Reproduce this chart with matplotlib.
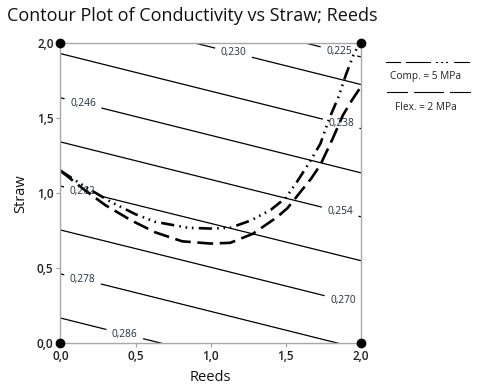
import matplotlib
matplotlib.use("Agg")
import matplotlib.pyplot as plt
import numpy as np
from matplotlib.lines import Line2D

plt.rcParams['font.family'] = ['Open Sans', 'DejaVu Sans']

# Grid of conductivity values
reeds_grid = [0.0, 0.5, 1.0, 1.5, 2.0]
straw_grid = [0.0, 0.5, 1.0, 1.5, 2.0]
conductivity = [
    [0.2906, 0.2872, 0.2838, 0.2804, 0.2770],   # straw = 0.0
    [0.2770, 0.2736, 0.2702, 0.2668, 0.2634],   # straw = 0.5
    [0.2633, 0.2599, 0.2565, 0.2531, 0.2497],   # straw = 1.0
    [0.2497, 0.2463, 0.2429, 0.2395, 0.2361],   # straw = 1.5
    [0.2361, 0.2327, 0.2293, 0.2259, 0.2225],   # straw = 2.0
]
levels = [0.225, 0.230, 0.238, 0.246, 0.254, 0.262, 0.270, 0.278, 0.286]
label_pos = [(1.85, 1.93), (1.15, 1.93), (1.86, 1.43), (0.15, 1.60), (1.86, 0.87),
             (0.15, 1.03), (1.88, 0.29), (0.15, 0.44), (0.43, 0.07)]

# Overlaid constraint curves
comp_x = [0.0, 0.17, 0.34, 0.50, 0.63, 0.85, 1.00, 1.13, 1.27, 1.40, 1.50, 1.57, 1.66, 1.73, 1.79, 1.85, 1.90, 1.95, 1.99]
comp_y = [1.15, 1.04, 0.94, 0.86, 0.81, 0.77, 0.765, 0.77, 0.82, 0.89, 0.97, 1.07, 1.21, 1.33, 1.50, 1.64, 1.79, 1.92, 2.0]
flex_x = [0.0, 0.15, 0.30, 0.47, 0.63, 0.81, 1.00, 1.13, 1.28, 1.44, 1.51, 1.59, 1.67, 1.73, 1.81, 1.88, 1.94, 2.0]
flex_y = [1.15, 1.03, 0.92, 0.82, 0.74, 0.68, 0.665, 0.67, 0.73, 0.84, 0.90, 1.00, 1.10, 1.19, 1.36, 1.52, 1.62, 1.71]

corner_x = [0, 0, 2, 2]
corner_y = [0, 2, 0, 2]
ticks = [0.0, 0.5, 1.0, 1.5, 2.0]
tick_labels = ['0,0', '0,5', '1,0', '1,5', '2,0']

fig = plt.figure(figsize=(4.8, 3.85), dpi=100)
ax = fig.add_axes([0.126, 0.108, 0.626, 0.780])

X, Y = np.meshgrid(reeds_grid, straw_grid)
cs = ax.contour(X, Y, np.array(conductivity), levels=levels, colors='black', linewidths=0.9)
fmt = {lv: ('%.3f' % lv).replace('.', ',') for lv in levels}
cl = ax.clabel(cs, levels, fmt=fmt, fontsize=7.3, inline=True, inline_spacing=6, manual=label_pos)
for t in cl:
    t.set_color('#1f2d3d')
    t.set_rotation(0)

comp_dash = (5, 2, 0.6, 1.8, 0.6, 1.8, 0.6, 2)
ax.plot(comp_x, comp_y, color='black', lw=1.9, linestyle=(0, comp_dash))
ax.plot(flex_x, flex_y, color='black', lw=1.9, linestyle=(0, (6, 2.5)))

ax.scatter(corner_x, corner_y, s=36, color='black', zorder=5, clip_on=False)

ax.set_xlim(0, 2)
ax.set_ylim(0, 2)
ax.set_xticks(ticks)
ax.set_xticklabels(tick_labels)
ax.set_yticks(ticks)
ax.set_yticklabels(tick_labels)
ax.tick_params(axis='both', colors='#a0a0a0', labelcolor='#222222', labelsize=8.5, length=3, width=0.8, pad=2)
for lab in ax.get_xticklabels() + ax.get_yticklabels():
    lab.set_fontweight(600)
for s in ax.spines.values():
    s.set_color('#a8a8a8')
    s.set_linewidth(1.0)
ax.set_xlabel('Reeds', fontsize=10.5, labelpad=5, color='#111111')
ax.set_ylabel('Straw', fontsize=10.5, labelpad=6, color='#111111')

fig.text(7 / 480, 1 - 16 / 385, 'Contour Plot of Conductivity vs Straw; Reeds', fontsize=13,
         ha='left', va='center', color='#111111')

# Legend on the right
def fx(px):
    return px / 480
def fy(py):
    return 1 - py / 385

for a, b in [(386, 400), (406, 430), (454, 469)]:
    fig.add_artist(Line2D([fx(a), fx(b)], [fy(62), fy(62)], color='black', lw=0.8, transform=fig.transFigure))
for d in [436, 441, 446]:
    fig.add_artist(Line2D([fx(d), fx(d + 1)], [fy(62), fy(62)], color='black', lw=0.8, transform=fig.transFigure))
for a, b in [(387, 407), (414, 443), (450, 470)]:
    fig.add_artist(Line2D([fx(a), fx(b)], [fy(92), fy(92)], color='black', lw=0.8, transform=fig.transFigure))
fig.text(fx(426), fy(77), 'Comp. = 5 MPa', fontsize=7.3, ha='center', va='center', color='#222222')
fig.text(fx(426), fy(107), 'Flex. = 2 MPa', fontsize=7.3, ha='center', va='center', color='#222222')

fig.savefig('out.png', dpi=100)
